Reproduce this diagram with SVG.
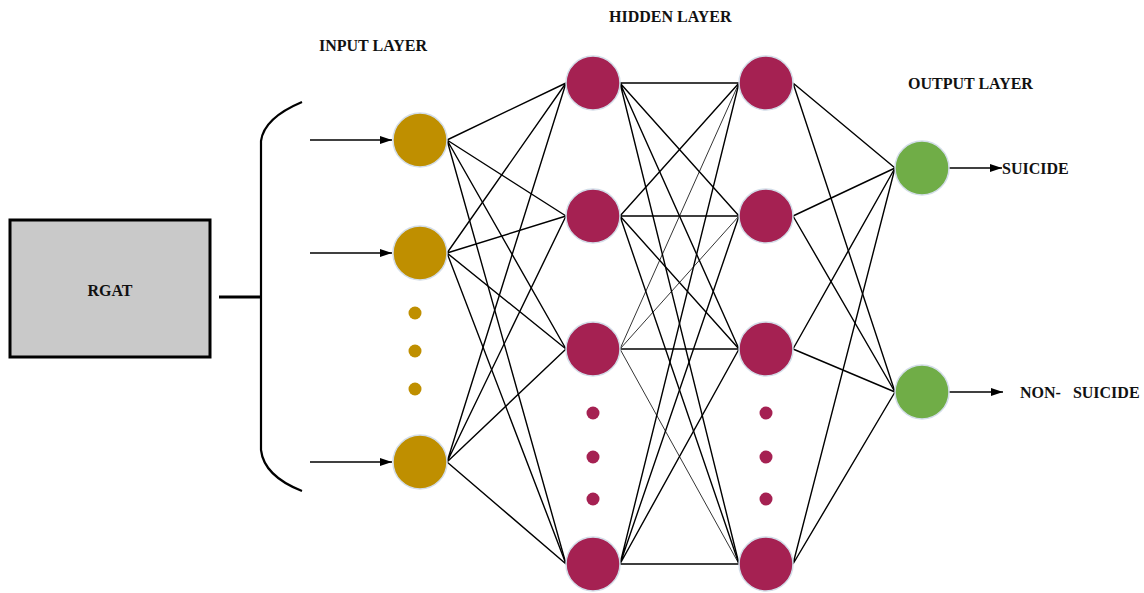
<svg xmlns="http://www.w3.org/2000/svg" width="1144" height="593" viewBox="0 0 1144 593">
<defs>
<style>
.lbl{font-family:"Liberation Serif","Times New Roman",serif;font-weight:bold;font-size:16px;fill:#111}
.e{stroke:#000;stroke-width:1.4;fill:none}
.t{stroke:#000;stroke-width:0.8;fill:none}
.in{fill:#bf8f00;stroke:#d3dde8;stroke-width:1.5}
.hid{fill:#a52152;stroke:#d3dde8;stroke-width:1.5}
.out{fill:#70ad47;stroke:#d3dde8;stroke-width:1.5}
.dot-in{fill:#bf8f00}
.dot-h{fill:#a52152}
.arr{stroke:#000;stroke-width:1.5;fill:none;marker-end:url(#ah)}
</style>
<marker id="ah" viewBox="0 0 10 10" refX="10" refY="5" markerWidth="12" markerHeight="8" markerUnits="userSpaceOnUse" orient="auto" preserveAspectRatio="none">
<path d="M0,0 L10,5 L0,10 Z" fill="#000"/>
</marker>
</defs>
<rect width="1144" height="593" fill="#fff"/>

<g id="connectors">
<line x1="219" y1="297" x2="261" y2="297" stroke="#000" stroke-width="3"/>
<path d="M302,102 Q264,118 261,141 L261,450 Q264,476 302,491" stroke="#000" stroke-width="2.2" fill="none"/>
<line class="arr" x1="310" y1="140" x2="392" y2="140"/>
<line class="arr" x1="310" y1="253" x2="392" y2="253"/>
<line class="arr" x1="310" y1="462" x2="392" y2="462"/>
<path class="e" d="M447,140 L566,83 M447,140 L566,216 M447,140 L566,349 M447,140 L566,564"/>
<path class="e" d="M447,253 L566,83 M447,253 L566,216 M447,253 L566,349 M447,253 L566,564"/>
<path class="e" d="M447,462 L566,83 M447,462 L566,216 M447,462 L566,349 M447,462 L566,564"/>
<path class="e" d="M620,83 L739,83 M620,83 L739,216 M620,83 L739,349 M620,83 L739,564"/>
<path class="e" d="M620,216 L739,83 M620,216 L739,216 M620,216 L739,349 M620,216 L739,564"/>
<path class="e" d="M620,349 L739,349"/>
<path class="t" d="M620,349 L739,83 M620,349 L739,564 M620,349 L739,216"/>
<path class="e" d="M620,564 L739,83 M620,564 L739,216 M620,564 L739,349 M620,564 L739,564"/>
<path class="e" d="M793,83 L895,168 M793,83 L895,392"/>
<path class="e" d="M793,216 L895,168 M793,216 L895,392"/>
<path class="e" d="M793,349 L895,168 M793,349 L895,392"/>
<path class="e" d="M793,564 L895,168 M793,564 L895,392"/>
<line class="arr" x1="949" y1="168" x2="1002" y2="168"/>
<line class="arr" x1="949" y1="392" x2="1003" y2="392"/>
</g>

<g id="rgat">
<rect x="10" y="220" width="200" height="137" fill="#c9c9c9" stroke="#000" stroke-width="3"/>
<text class="lbl" x="110" y="296" text-anchor="middle">RGAT</text>
</g>

<g id="labels">
<text class="lbl" x="319" y="51">INPUT LAYER</text>
<text class="lbl" x="609" y="22">HIDDEN LAYER</text>
<text class="lbl" x="908" y="89">OUTPUT LAYER</text>
</g>

<g id="input-layer">
<circle id="in1" class="in" cx="420" cy="140" r="27"/>
<circle id="in2" class="in" cx="420" cy="253" r="27"/>
<circle class="dot-in" cx="415" cy="313" r="6.5"/>
<circle class="dot-in" cx="415" cy="351" r="6.5"/>
<circle class="dot-in" cx="415" cy="389" r="6.5"/>
<circle id="in3" class="in" cx="420" cy="462" r="27"/>
</g>

<g id="hidden-layer-1">
<circle class="hid" cx="593" cy="83" r="27"/>
<circle class="hid" cx="593" cy="216" r="27"/>
<circle class="hid" cx="593" cy="349" r="27"/>
<circle class="dot-h" cx="593" cy="413" r="6.5"/>
<circle class="dot-h" cx="593" cy="457" r="6.5"/>
<circle class="dot-h" cx="593" cy="499" r="6.5"/>
<circle class="hid" cx="593" cy="564" r="27"/>
</g>

<g id="hidden-layer-2">
<circle class="hid" cx="766" cy="83" r="27"/>
<circle class="hid" cx="766" cy="216" r="27"/>
<circle class="hid" cx="766" cy="349" r="27"/>
<circle class="dot-h" cx="766" cy="413" r="6.5"/>
<circle class="dot-h" cx="766" cy="457" r="6.5"/>
<circle class="dot-h" cx="766" cy="499" r="6.5"/>
<circle class="hid" cx="766" cy="564" r="27"/>
</g>

<g id="output-layer">
<circle id="out1" class="out" cx="922" cy="168" r="27"/>
<circle id="out2" class="out" cx="922" cy="392" r="27"/>
<text class="lbl" x="1002" y="174">SUICIDE</text>
<text class="lbl" x="1020" y="398" xml:space="preserve">NON-   SUICIDE</text>
</g>
</svg>
